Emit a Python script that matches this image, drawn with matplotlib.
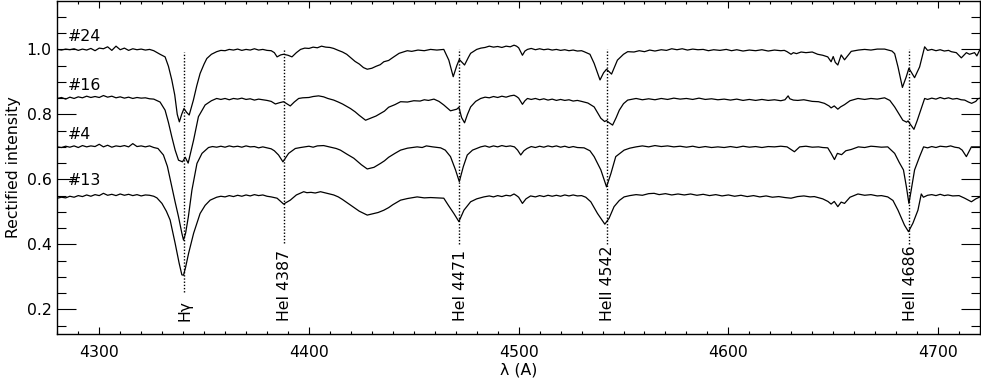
"""Rectified spectra (#24, #16, #4, #13) with line identifications.
"""
import matplotlib
matplotlib.use("Agg")
import matplotlib.pyplot as plt
import numpy as np
from matplotlib.ticker import MultipleLocator

plt.rcParams["font.family"] = "DejaVu Sans"
plt.rcParams["font.size"] = 11.3
plt.rcParams["axes.linewidth"] = 1.0

# Spectra: (wavelength [A], rectified flux incl. offset).
spec_24 = [
    (4280, 1.0), (4282, 0.998), (4284, 1.001), (4286, 0.999), (4288, 1.002),
    (4290, 0.997), (4292, 1.001), (4294, 0.998), (4296, 1.003), (4298, 0.996),
    (4300, 1.004), (4302, 1.002), (4304, 1.008), (4306, 0.997), (4308, 1.01),
    (4310, 0.999), (4312, 1.004), (4314, 0.997), (4316, 1.002), (4318, 0.999),
    (4320, 1.001), (4322, 0.998), (4324, 1.0), (4326, 0.996),
    (4329, 0.985), (4331.4, 0.977), (4333, 0.948), (4334.6, 0.906),
    (4336, 0.86), (4337.2, 0.80), (4338.2, 0.777), (4339.3, 0.80),
    (4340.4, 0.818), (4341.7, 0.806), (4342.9, 0.798), (4344.9, 0.844),
    (4346.5, 0.888), (4348.1, 0.926), (4350, 0.955), (4351.3, 0.972),
    (4353.5, 0.985), (4356, 0.993), (4358, 0.997), (4360, 0.996),
    (4362, 1.0), (4364, 0.998), (4366, 1.001), (4368, 0.997), (4370, 1.0),
    (4372, 0.998), (4374, 1.002), (4376, 0.998), (4378, 1.0), (4380, 0.997),
    (4382, 0.996), (4383.5, 0.99), (4384.8, 0.977), (4386.5, 0.983),
    (4387.9, 0.985), (4390, 0.982), (4391.9, 0.977), (4394, 0.99),
    (4396, 1.0), (4398, 1.004), (4400, 1.003), (4402, 1.007), (4404, 1.005),
    (4406, 1.01), (4408, 1.007), (4410, 1.006), (4411.8, 1.003),
    (4414, 0.997), (4416, 0.992), (4418, 0.985), (4419.8, 0.975),
    (4422, 0.963), (4424, 0.955), (4426, 0.944), (4427.8, 0.939),
    (4430, 0.942), (4432, 0.948), (4434, 0.953), (4435.7, 0.962),
    (4438, 0.966), (4440, 0.975), (4443, 0.988), (4446.9, 0.996),
    (4449, 0.994), (4452, 0.998), (4455, 0.996), (4458, 1.0), (4461, 0.998),
    (4464.3, 1.0), (4466.7, 0.967), (4468.8, 0.916), (4470.5, 0.95),
    (4471.7, 0.969), (4474.2, 0.952), (4476, 0.975), (4477.1, 0.988),
    (4480, 1.0), (4482, 1.004), (4484, 1.006), (4486, 1.01), (4488, 1.007),
    (4490, 1.009), (4492, 1.006), (4494, 1.01), (4496, 1.008),
    (4497.8, 1.013), (4499, 1.01), (4500, 1.005), (4501.8, 0.982),
    (4503, 0.995), (4504.2, 1.0), (4506, 1.003), (4508, 0.999), (4510, 1.002),
    (4512, 0.999), (4514, 1.001), (4516, 0.998), (4518, 1.0), (4520, 0.997),
    (4522, 0.999), (4524, 0.996), (4526, 0.998), (4528, 0.995), (4530, 0.996),
    (4531.2, 0.993), (4534, 0.985), (4536, 0.957), (4538.8, 0.906),
    (4540.5, 0.928), (4541.9, 0.939), (4544.3, 0.924), (4547.1, 0.967),
    (4550, 0.985), (4552, 0.993), (4555, 0.992), (4557.5, 0.996),
    (4560, 0.993), (4562.5, 0.998), (4565, 0.995), (4568, 0.999),
    (4570.5, 0.997), (4573, 1.002), (4575.5, 0.999), (4578, 1.002),
    (4580.5, 0.998), (4583, 1.001), (4585.5, 0.999), (4588, 1.0),
    (4590.5, 0.996), (4593, 0.999), (4596, 0.997), (4599, 1.0),
    (4601.5, 0.996), (4604, 0.999), (4607, 0.995), (4610, 0.998),
    (4613, 0.996), (4616, 0.999), (4619, 0.995), (4622, 0.998), (4625, 0.996),
    (4626.7, 0.997), (4628, 0.993), (4629.9, 0.985), (4631, 0.99),
    (4632.5, 0.987), (4634.7, 0.992), (4637, 0.99), (4640, 0.992),
    (4642.6, 0.985), (4645, 0.982), (4647.4, 0.977), (4649, 0.962),
    (4650, 0.978), (4651, 0.96), (4652.2, 0.952), (4653.8, 0.983),
    (4655.4, 0.968), (4658.6, 0.994), (4662, 0.998), (4665, 1.0),
    (4668, 0.998), (4671, 1.001), (4674.5, 1.001), (4678, 0.995),
    (4679.3, 0.987), (4680.9, 0.946), (4683, 0.883), (4684.8, 0.915),
    (4686.1, 0.942), (4688.8, 0.913), (4691.2, 0.946), (4693.6, 1.008),
    (4695, 0.997), (4697, 1.0), (4699, 0.996), (4701, 0.999), (4703, 0.995),
    (4705, 0.997), (4706.3, 0.993), (4708.7, 0.99), (4711.1, 0.974),
    (4713.5, 0.99), (4715, 0.985), (4717.4, 0.99), (4718.5, 0.98),
    (4720, 1.0),
]

spec_16 = [
    (4280, 0.849), (4282, 0.852), (4284, 0.847), (4286, 0.853), (4288, 0.849),
    (4290, 0.854), (4292, 0.851), (4294, 0.856), (4296, 0.852), (4298, 0.855),
    (4300, 0.852), (4302, 0.858), (4304, 0.853), (4306, 0.856), (4308, 0.851),
    (4310, 0.854), (4312, 0.85), (4314, 0.853), (4316, 0.849), (4318, 0.852),
    (4320, 0.85), (4322, 0.851), (4324, 0.848), (4326, 0.847),
    (4329, 0.838), (4331.4, 0.813), (4333, 0.775), (4334.6, 0.731),
    (4336.2, 0.69), (4337.8, 0.659), (4339.7, 0.654), (4341.0, 0.668),
    (4342.4, 0.650), (4343.7, 0.685), (4345, 0.721), (4347.3, 0.793),
    (4350.5, 0.829), (4353.5, 0.842), (4356, 0.849), (4358, 0.846),
    (4360, 0.849), (4362, 0.845), (4364, 0.849), (4366, 0.847), (4368, 0.85),
    (4370, 0.846), (4372, 0.848), (4374, 0.844), (4376, 0.847),
    (4378, 0.845), (4380, 0.843), (4382, 0.84), (4384, 0.832),
    (4386, 0.836), (4387.9, 0.839), (4391.1, 0.826), (4393, 0.838),
    (4395.1, 0.849), (4397, 0.851), (4400, 0.852), (4402, 0.855),
    (4404.6, 0.857), (4407, 0.854), (4409, 0.849), (4411.8, 0.844),
    (4414, 0.838), (4416, 0.832), (4419.8, 0.818), (4422, 0.808),
    (4424, 0.797), (4427, 0.782), (4430, 0.79), (4432, 0.795),
    (4434.1, 0.803), (4436, 0.81), (4438, 0.822), (4441, 0.83),
    (4443.7, 0.839), (4447, 0.838), (4450, 0.842), (4453, 0.841),
    (4455, 0.845), (4457, 0.843), (4459.6, 0.847), (4462, 0.84),
    (4464.3, 0.829), (4467.5, 0.811), (4470.5, 0.816), (4471.5, 0.822),
    (4472.8, 0.79), (4474.2, 0.774), (4475.6, 0.8), (4477.1, 0.823),
    (4479.5, 0.84), (4481.9, 0.849), (4484, 0.853), (4486, 0.851),
    (4488, 0.855), (4490, 0.852), (4492, 0.856), (4494, 0.853),
    (4496, 0.857), (4497.8, 0.859), (4499, 0.855), (4500, 0.85),
    (4501.8, 0.831), (4503, 0.842), (4504.2, 0.849), (4506, 0.846),
    (4508, 0.849), (4510, 0.845), (4512, 0.848), (4514, 0.844),
    (4516, 0.847), (4518, 0.843), (4520, 0.846), (4522, 0.843),
    (4524, 0.845), (4526, 0.841), (4528, 0.843), (4530, 0.84),
    (4533, 0.835), (4536, 0.823), (4539.2, 0.788), (4541.0, 0.778),
    (4541.9, 0.781), (4543, 0.775), (4544.8, 0.767), (4546.5, 0.79),
    (4548, 0.813), (4550, 0.833), (4552, 0.844), (4556, 0.849),
    (4559, 0.845), (4562, 0.848), (4565, 0.845), (4568, 0.849),
    (4571, 0.846), (4574, 0.85), (4577, 0.847), (4580, 0.849),
    (4583, 0.846), (4586, 0.85), (4589, 0.846), (4592, 0.848),
    (4595, 0.845), (4598, 0.847), (4601, 0.844), (4604, 0.847),
    (4607, 0.843), (4610, 0.846), (4613, 0.843), (4616, 0.846),
    (4619, 0.843), (4622, 0.845), (4625, 0.842), (4627, 0.845),
    (4628.5, 0.857), (4629.3, 0.848), (4631, 0.844), (4633.1, 0.843),
    (4636, 0.845), (4640, 0.84), (4643, 0.839), (4645.8, 0.834),
    (4648, 0.826), (4649, 0.82), (4650.5, 0.826), (4652.2, 0.816),
    (4653.5, 0.823), (4655.4, 0.83), (4658, 0.842), (4661.8, 0.849),
    (4665, 0.846), (4668, 0.849), (4671, 0.847), (4674.5, 0.851),
    (4677, 0.843), (4679.3, 0.823), (4681.5, 0.8), (4683.2, 0.782),
    (4685, 0.776), (4685.7, 0.78), (4686.5, 0.772), (4688.5, 0.754),
    (4690, 0.78), (4691.2, 0.803), (4693.6, 0.849), (4695, 0.846),
    (4697, 0.85), (4699, 0.847), (4701, 0.852), (4703, 0.848), (4705, 0.851),
    (4707, 0.847), (4709, 0.849), (4711, 0.845), (4712.7, 0.844),
    (4714.5, 0.838), (4716, 0.834), (4718, 0.84), (4719, 0.848),
    (4720, 0.85),
]

spec_4 = [
    (4280, 0.70), (4282, 0.698), (4284, 0.702), (4286, 0.699), (4288, 0.703),
    (4290, 0.698), (4292, 0.704), (4294, 0.70), (4296, 0.703), (4298, 0.701),
    (4300, 0.708), (4302, 0.70), (4304, 0.705), (4306, 0.699), (4308, 0.703),
    (4310, 0.701), (4312, 0.704), (4314, 0.70), (4316, 0.71), (4318, 0.701),
    (4320, 0.703), (4322, 0.70), (4324, 0.703), (4326, 0.698),
    (4328, 0.695), (4330.6, 0.675), (4332.5, 0.64), (4334.6, 0.577),
    (4336.2, 0.53), (4337.8, 0.485), (4339.4, 0.434), (4340.2, 0.413),
    (4341.2, 0.435), (4342.5, 0.485), (4344.2, 0.567), (4346.6, 0.649),
    (4349, 0.68), (4352.1, 0.698), (4354, 0.701), (4356, 0.699),
    (4358, 0.702), (4360, 0.699), (4362, 0.703), (4364, 0.70), (4366, 0.702),
    (4368, 0.699), (4370, 0.703), (4372, 0.70), (4374, 0.701), (4376, 0.697),
    (4378, 0.70), (4380, 0.697), (4382, 0.694), (4383.5, 0.688),
    (4385.5, 0.675), (4387.6, 0.654), (4390.3, 0.68), (4393.5, 0.695),
    (4396, 0.698), (4398, 0.7), (4400, 0.702), (4402, 0.699), (4404, 0.703),
    (4407, 0.704), (4409, 0.701), (4411, 0.698), (4413, 0.695), (4415, 0.69),
    (4418, 0.678), (4421.4, 0.665), (4425, 0.645), (4427.8, 0.632),
    (4431, 0.637), (4434.1, 0.649), (4436, 0.657), (4438, 0.668),
    (4441, 0.68), (4443.7, 0.69), (4447, 0.696), (4451.6, 0.70),
    (4454, 0.698), (4456, 0.703), (4459, 0.70), (4462.8, 0.697),
    (4465, 0.69), (4467.5, 0.67), (4469.9, 0.629), (4471.7, 0.593),
    (4473.6, 0.639), (4475.5, 0.675), (4478, 0.69), (4481.9, 0.70),
    (4484, 0.703), (4486, 0.699), (4488, 0.703), (4490, 0.70), (4492, 0.704),
    (4494, 0.701), (4496, 0.703), (4498, 0.70), (4499.5, 0.69),
    (4501, 0.675), (4502.5, 0.688), (4504, 0.695), (4506, 0.701),
    (4508, 0.698), (4510, 0.702), (4512, 0.699), (4514, 0.703), (4516, 0.70),
    (4518, 0.703), (4520, 0.699), (4522, 0.702), (4524, 0.698),
    (4526, 0.701), (4528, 0.698), (4531.2, 0.697), (4534, 0.688),
    (4536, 0.67), (4539.2, 0.629), (4541.9, 0.577), (4544, 0.618),
    (4546.3, 0.67), (4550.3, 0.69), (4553, 0.696), (4556, 0.70),
    (4559, 0.703), (4562, 0.70), (4565, 0.704), (4568, 0.701), (4571, 0.703),
    (4574, 0.70), (4577, 0.702), (4580, 0.699), (4583, 0.702), (4586, 0.698),
    (4589, 0.701), (4592, 0.698), (4595, 0.70), (4598, 0.698), (4601, 0.701),
    (4604, 0.698), (4607, 0.702), (4610, 0.699), (4613, 0.701),
    (4616, 0.698), (4619, 0.701), (4622, 0.70), (4625, 0.702), (4628, 0.70),
    (4631.5, 0.685), (4634, 0.70), (4637, 0.702), (4640, 0.699),
    (4643, 0.70), (4645, 0.698), (4647.4, 0.697), (4649, 0.68),
    (4650.6, 0.661), (4652, 0.68), (4654, 0.676), (4656, 0.688),
    (4658.6, 0.692), (4662, 0.70), (4665, 0.698), (4668, 0.702),
    (4670, 0.701), (4673, 0.699), (4676, 0.70), (4679.3, 0.68),
    (4681.5, 0.652), (4683.5, 0.629), (4684.9, 0.577), (4686.1, 0.526),
    (4687.2, 0.567), (4688.8, 0.629), (4691.2, 0.67), (4693.1, 0.70),
    (4695, 0.697), (4697, 0.701), (4699, 0.698), (4701, 0.702),
    (4703.9, 0.70), (4706, 0.703), (4708, 0.699), (4710, 0.697),
    (4711.5, 0.69), (4713.5, 0.67), (4715.9, 0.70), (4718, 0.70),
    (4720, 0.70),
]

spec_13 = [
    (4280, 0.542), (4282, 0.545), (4284, 0.543), (4286, 0.548), (4288, 0.545),
    (4290, 0.55), (4292, 0.547), (4294, 0.552), (4296, 0.548), (4298, 0.553),
    (4300, 0.55), (4302, 0.557), (4304, 0.551), (4306, 0.554), (4308, 0.55),
    (4310, 0.555), (4312, 0.551), (4314, 0.554), (4316, 0.55), (4318, 0.553),
    (4320, 0.549), (4322, 0.552), (4324, 0.551), (4326, 0.548),
    (4327.5, 0.543), (4329.9, 0.526), (4332, 0.502), (4333.8, 0.475),
    (4336.2, 0.403), (4338.1, 0.342), (4339.4, 0.306), (4340.2, 0.305),
    (4341.2, 0.33), (4342.6, 0.372), (4345, 0.434), (4348.1, 0.495),
    (4350.5, 0.52), (4352.9, 0.536), (4356, 0.545), (4358, 0.548),
    (4360, 0.546), (4362, 0.55), (4364, 0.547), (4366, 0.551), (4368, 0.548),
    (4370, 0.552), (4372, 0.549), (4374, 0.553), (4376, 0.55), (4378, 0.552),
    (4380, 0.548), (4382, 0.546), (4384.8, 0.542), (4387.9, 0.524),
    (4391.1, 0.536), (4394, 0.552), (4397.5, 0.562), (4399, 0.559),
    (4401, 0.56), (4403, 0.558), (4405.5, 0.562), (4408, 0.558),
    (4411.8, 0.552), (4414, 0.546), (4416, 0.538), (4419.8, 0.521),
    (4422, 0.511), (4424, 0.502), (4427.8, 0.49), (4431, 0.495),
    (4433, 0.498), (4435.7, 0.505), (4438, 0.513), (4440, 0.522),
    (4443.7, 0.536), (4447, 0.541), (4451.6, 0.546), (4455, 0.543),
    (4458, 0.544), (4461, 0.543), (4464.3, 0.542), (4466.5, 0.52),
    (4469.1, 0.495), (4471.5, 0.47), (4473.9, 0.505), (4477.1, 0.531),
    (4480, 0.54), (4483.4, 0.546), (4486, 0.549), (4488, 0.546),
    (4490, 0.55), (4492, 0.547), (4494, 0.551), (4496, 0.549),
    (4497.8, 0.555), (4499, 0.55), (4500, 0.545), (4501.8, 0.526),
    (4503.5, 0.54), (4505.7, 0.549), (4508, 0.546), (4510, 0.55),
    (4512, 0.547), (4514, 0.551), (4516, 0.548), (4518, 0.551),
    (4520, 0.548), (4522, 0.552), (4524, 0.549), (4526, 0.552),
    (4528, 0.549), (4530, 0.55), (4532, 0.545), (4534.4, 0.531),
    (4537.6, 0.495), (4541.1, 0.462), (4543.1, 0.48), (4545.5, 0.516),
    (4548, 0.535), (4550.3, 0.546), (4553, 0.55), (4556, 0.553),
    (4559, 0.551), (4562, 0.556), (4564.6, 0.557), (4567, 0.553),
    (4570, 0.556), (4573, 0.552), (4576, 0.555), (4579, 0.552),
    (4582, 0.555), (4585, 0.551), (4588, 0.554), (4591, 0.55), (4594, 0.553),
    (4597, 0.549), (4600, 0.552), (4603, 0.548), (4606, 0.551),
    (4609, 0.547), (4612, 0.55), (4615, 0.546), (4618, 0.549), (4621, 0.545),
    (4624, 0.547), (4627, 0.544), (4629.9, 0.542), (4633, 0.547),
    (4636, 0.549), (4639, 0.546), (4641, 0.547), (4645, 0.54),
    (4647.5, 0.532), (4649, 0.524), (4650.5, 0.532), (4652.2, 0.516),
    (4653.8, 0.53), (4655.4, 0.526), (4658, 0.545), (4661.8, 0.555),
    (4665, 0.551), (4668, 0.553), (4671, 0.549), (4673, 0.55), (4676, 0.546),
    (4678.5, 0.535), (4680.9, 0.505), (4684, 0.459), (4685.9, 0.439),
    (4688, 0.465), (4690.4, 0.505), (4691.5, 0.54), (4692, 0.555),
    (4693, 0.545), (4695, 0.551), (4697, 0.553), (4699, 0.55), (4701, 0.554),
    (4703, 0.55), (4704.7, 0.552), (4707, 0.549), (4710, 0.55),
    (4712.7, 0.542), (4715.9, 0.531), (4718, 0.54), (4720, 0.546),
]

spectra = [spec_24, spec_16, spec_4, spec_13]
spec_names = ["#24", "#16", "#4", "#13"]
name_y = [1.041, 0.889, 0.739, 0.595]

# Line identifications: centre, label, dotted line extent.
line_wave = [4340.5, 4387.9, 4471.7, 4541.9, 4686.1]
line_label = ["H\u03b3", "HeI 4387", "HeI 4471", "HeII 4542", "HeII 4686"]
line_top = [0.993, 1.0, 1.0, 1.0, 1.0]
line_bottom = [0.254, 0.403, 0.40, 0.40, 0.40]

fig = plt.figure(figsize=(9.81, 3.82), dpi=100)
ax = fig.add_axes([57.3 / 981, 48 / 382, 922.7 / 981, 333 / 382])

for spec in spectra:
    w, f = np.array(spec).T
    ax.plot(w, f, color="black", lw=0.9)

for name, y in zip(spec_names, name_y):
    ax.text(4285, y, name, ha="left", va="center")

for w, lab, top, bot in zip(line_wave, line_label, line_top, line_bottom):
    ax.plot([w, w], [bot, top], color="black", lw=1.0, ls=(0, (1, 1.3)))
    ax.text(w + 0.6, 0.163, lab, rotation=90, ha="center", va="bottom")

ax.set_xlim(4280, 4720)
ax.set_ylim(0.124, 1.149)
ax.xaxis.set_major_locator(MultipleLocator(100))
ax.xaxis.set_minor_locator(MultipleLocator(10))
ax.yaxis.set_minor_locator(MultipleLocator(0.05))
ax.set_yticks([0.2, 0.4, 0.6, 0.8, 1.0])
ax.set_yticklabels(["0.2", "0.4", "0.6", "0.8", "1.0"])

ax.tick_params(which="both", direction="in", top=True, right=True, width=0.8)
ax.tick_params(axis="x", which="major", length=5.2, pad=8)
ax.tick_params(axis="x", which="minor", length=2.4)
ax.tick_params(axis="y", which="major", length=13.5, pad=4)
ax.tick_params(axis="y", which="minor", length=6.7)

ax.set_xlabel("\u03bb (A)", labelpad=2)
ax.set_ylabel("Rectified intensity", labelpad=4)

fig.savefig("out.png", dpi=100)
